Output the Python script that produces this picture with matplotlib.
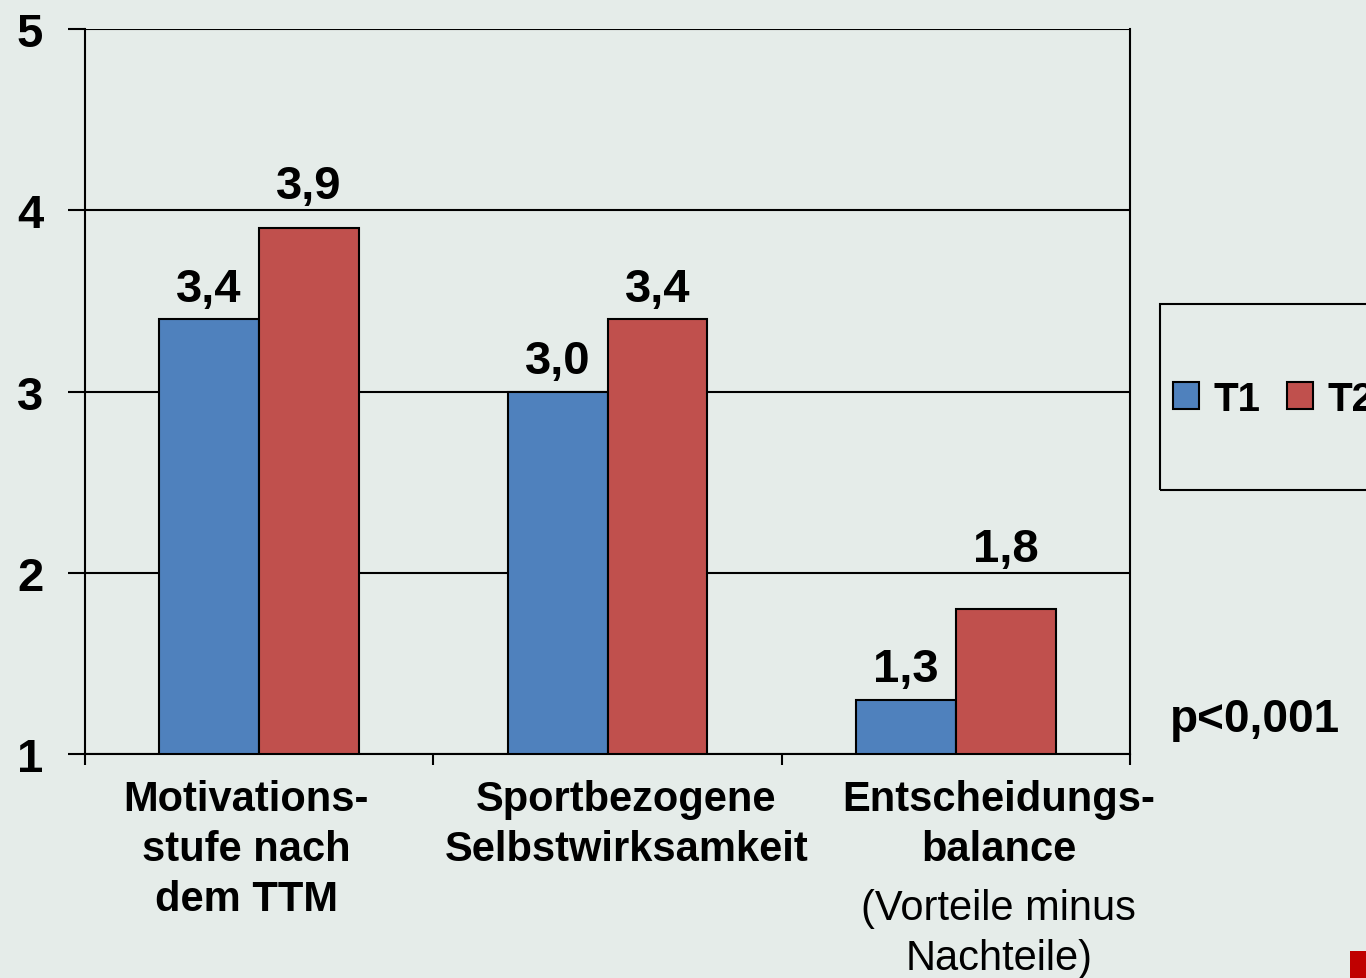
import matplotlib
matplotlib.use("Agg")
import matplotlib.pyplot as plt
import numpy as np
from matplotlib.patches import Rectangle

categories = ["Motivations-\nstufe nach\ndem TTM", "Sportbezogene\nSelbstwirksamkeit", "Entscheidungs-\nbalance"]
sub_labels = ["", "", "(Vorteile minus\nNachteile)"]
t1_values = [3.4, 3.0, 1.3]
t2_values = [3.9, 3.4, 1.8]
value_labels_t1 = ["3,4", "3,0", "1,3"]
value_labels_t2 = ["3,9", "3,4", "1,8"]
yticks = [1, 2, 3, 4, 5]

bg = "#E5ECE9"
blue = "#4F81BD"
red = "#C0504D"

plt.rcParams['font.family'] = ['Liberation Sans', 'DejaVu Sans']

W, H = 1366, 979
fig = plt.figure(figsize=(W / 100, H / 100), dpi=100, facecolor=bg)
ax = fig.add_axes([85 / W, 1 - 755 / H, (1130 - 85) / W, (755 - 30) / H])
ax.set_facecolor(bg)

x = np.arange(len(categories))
bw = 0.287
b1 = ax.bar(x - bw / 2, np.array(t1_values) - 1, bw, bottom=1, color=blue,
            edgecolor="black", linewidth=1.5, label="T1", zorder=3)
b2 = ax.bar(x + bw / 2, np.array(t2_values) - 1, bw, bottom=1, color=red,
            edgecolor="black", linewidth=1.5, label="T2", zorder=3)

# label lifts (points) so the numbers clear the gridlines like the original
lift_t1 = [6, 6, 6]
lift_t2 = [15, 6, 27]
for i in range(len(categories)):
    ax.annotate(value_labels_t1[i], (x[i] - bw / 2, t1_values[i]), xytext=(0, lift_t1[i]),
                textcoords="offset points", ha="center", va="bottom",
                fontsize=34, fontweight="bold")
    ax.annotate(value_labels_t2[i], (x[i] + bw / 2, t2_values[i]), xytext=(0, lift_t2[i]),
                textcoords="offset points", ha="center", va="bottom",
                fontsize=34, fontweight="bold")

ax.set_xlim(-0.5, 2.5)
ax.set_ylim(1, 5)
ax.set_yticks(yticks)
ax.set_yticklabels([str(v) for v in yticks], fontsize=34, fontweight="bold")
ax.yaxis.grid(True, color="black", linewidth=1.5, zorder=0)
ax.set_axisbelow(True)
ax.tick_params(axis="y", length=12, width=1.5, pad=18)
ax.set_xticks([-0.5, 0.5, 1.5, 2.5])
ax.set_xticklabels([])
ax.tick_params(axis="x", length=8, width=1.5)
for s in ["left", "bottom", "right"]:
    ax.spines[s].set_linewidth(1.5)
ax.spines["top"].set_visible(False)

label_shift = [-0.037, 0.054, 0.123]
for i, lab in enumerate(categories):
    ax.text(x[i] + label_shift[i], -25 / 725, lab, transform=ax.get_xaxis_transform(),
            ha="center", va="top", fontsize=30, fontweight="bold", linespacing=1.33)
    if sub_labels[i]:
        ax.text(x[i] + label_shift[i], -134 / 725, sub_labels[i],
                transform=ax.get_xaxis_transform(),
                ha="center", va="top", fontsize=30, linespacing=1.33)

# legend frame (runs off the right edge)
fig.patches.append(Rectangle((1160 / W, 1 - 491 / H), 300 / W, 186 / H,
                             transform=fig.transFigure, facecolor="none",
                             edgecolor="black", linewidth=1.5))
fig.legend(handles=[b1, b2], loc="center left", bbox_to_anchor=(1173 / W, 1 - 400 / H),
           ncol=2, frameon=False, prop={"size": 29, "weight": "bold"},
           handlelength=0.65, handleheight=0.65, handletextpad=0.35, columnspacing=0.67,
           borderpad=0, borderaxespad=0)

fig.text(1170 / W, 1 - 720 / H, "p<0,001", fontsize=33, fontweight="bold", va="center")

fig.patches.append(Rectangle((1350 / W, 0), 16 / W, 27 / H, transform=fig.transFigure,
                             facecolor="#C00000", edgecolor="none"))

fig.savefig("out.png", dpi=100, facecolor=bg)
